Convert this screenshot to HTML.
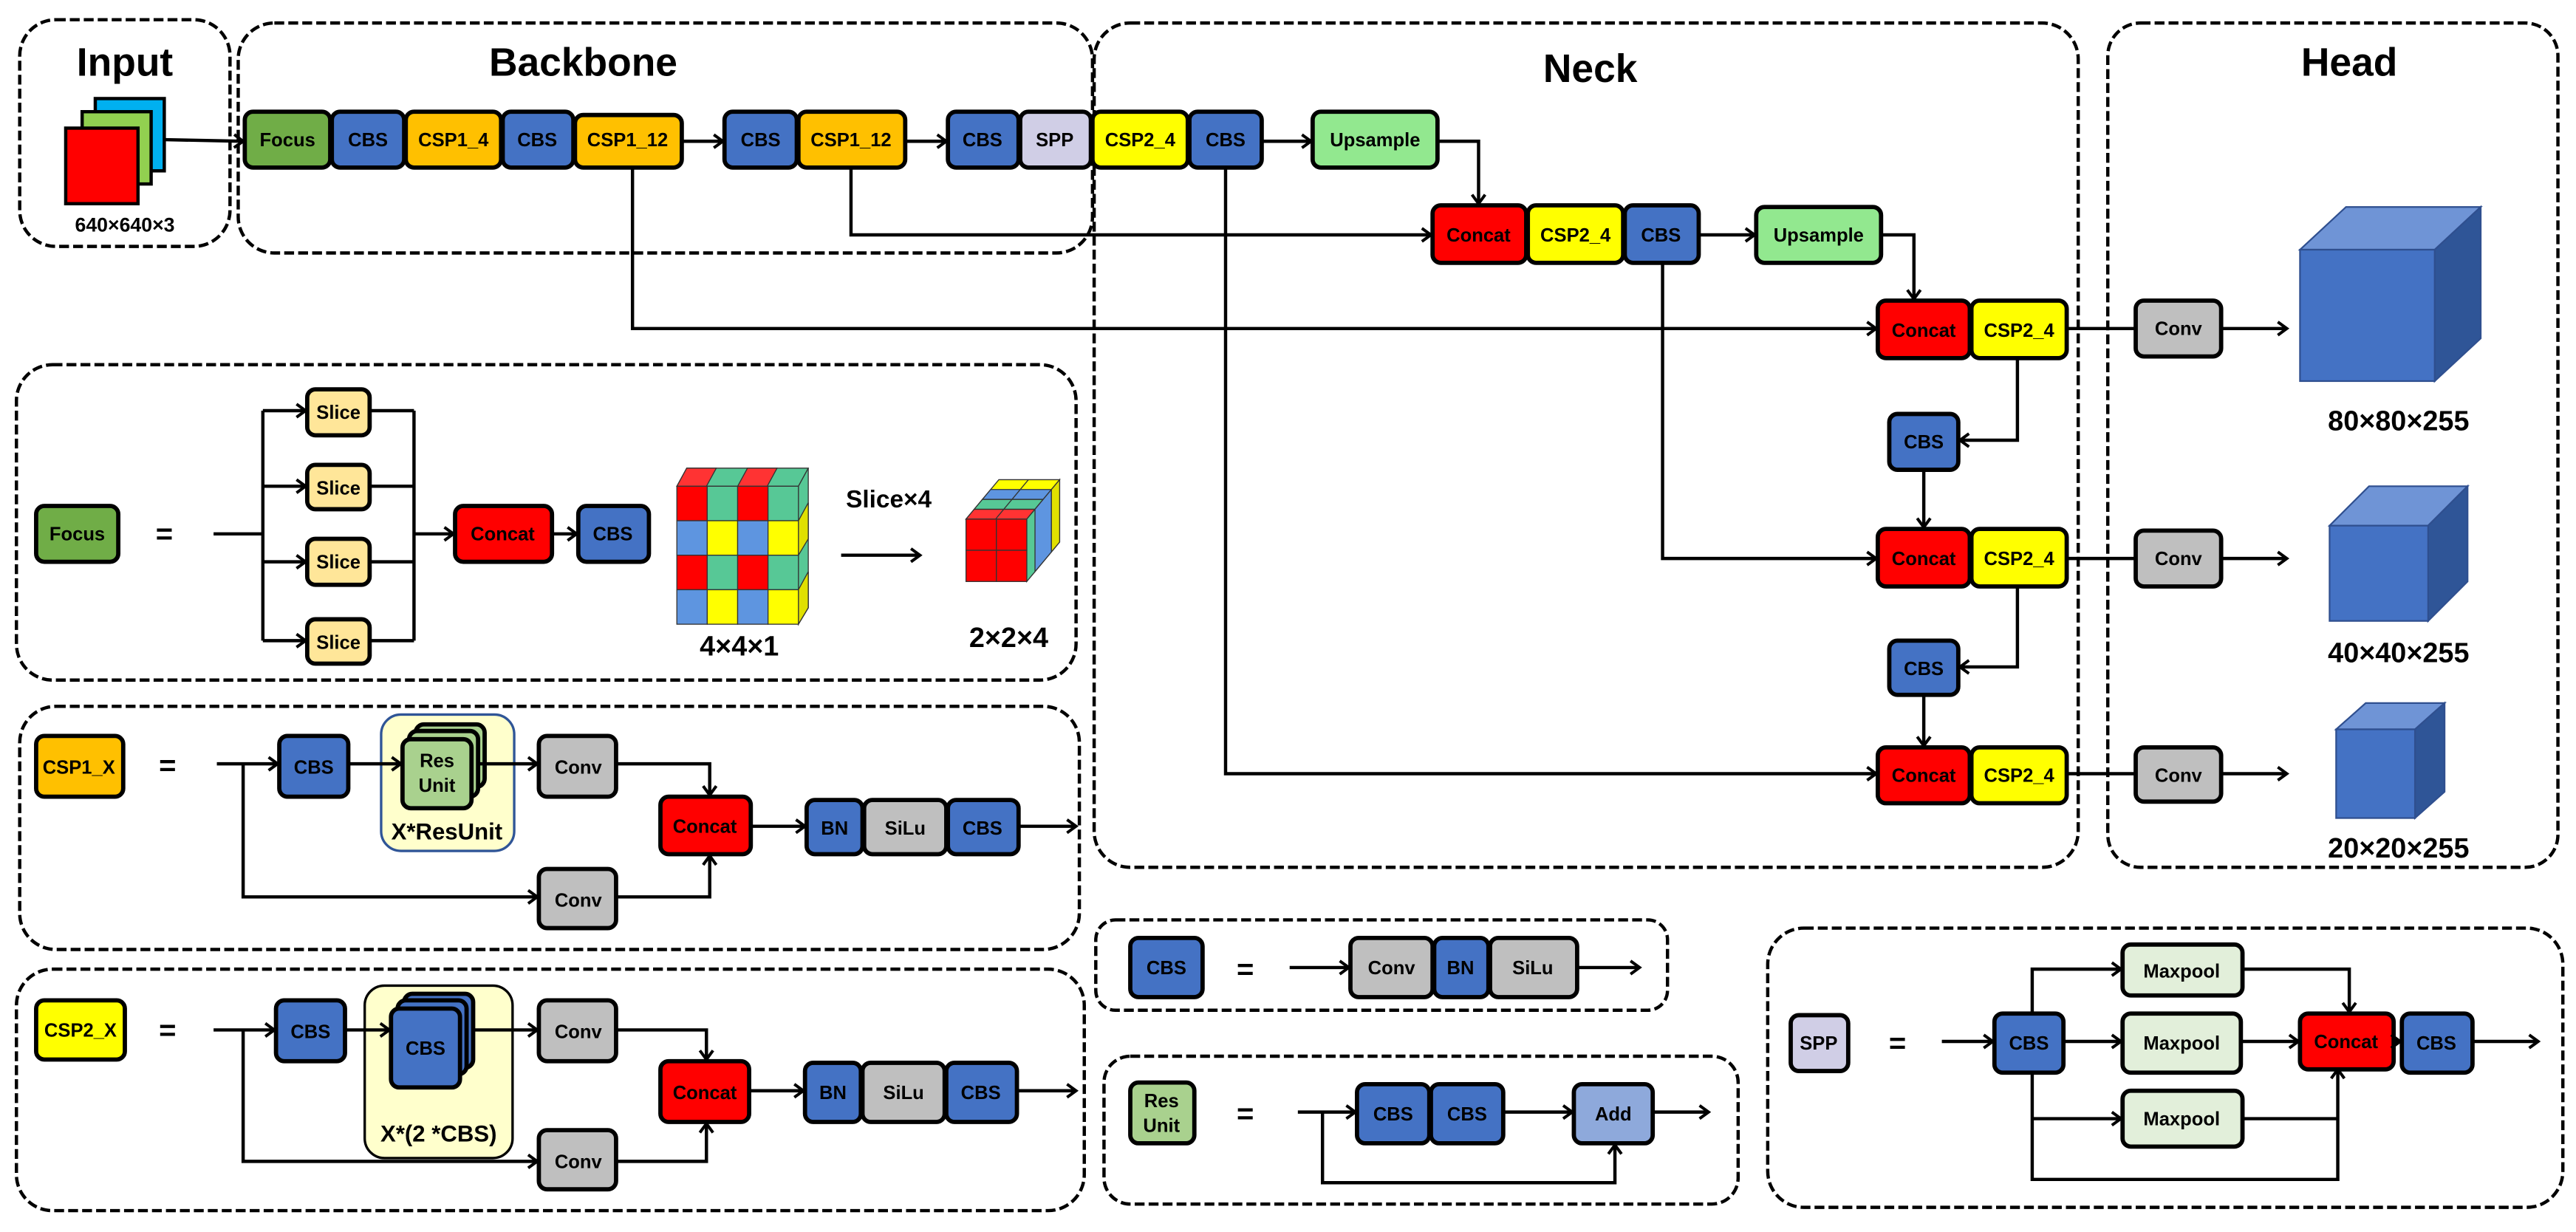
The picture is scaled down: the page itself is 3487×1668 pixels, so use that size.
<!DOCTYPE html>
<html><head><meta charset="utf-8">
<style>
html,body{margin:0;padding:0;background:#fff;}
svg{display:block;}
text{font-family:"Liberation Sans",Arial,sans-serif;font-weight:bold;text-anchor:middle;fill:#000;}
.b{stroke:#000;stroke-width:2.6;}
.t{font-size:11.5px;}
.d{fill:none;stroke:#000;stroke-width:2;stroke-dasharray:6 2.5;}
.l{fill:none;stroke:#000;stroke-width:2;}
.T{font-size:24px;}
.L{font-size:17px;}
</style></head><body>
<svg width="3487" height="1668" viewBox="0 0 1568 750" preserveAspectRatio="none" xmlns="http://www.w3.org/2000/svg">
<defs>
<marker id="a" markerWidth="10" markerHeight="10" refX="8" refY="5" orient="auto" markerUnits="userSpaceOnUse"><path d="M2.5,1 L8,5 L2.5,9" fill="none" stroke="#000" stroke-width="1.8"/></marker>
</defs>

<!-- dashed containers -->
<rect class="d" x="12" y="12" width="128" height="138" rx="22"/>
<rect class="d" x="145" y="14" width="520" height="140" rx="22"/>
<rect class="d" x="666" y="14" width="599" height="514" rx="22"/>
<rect class="d" x="1283" y="14" width="274" height="514" rx="20"/>
<rect class="d" x="10" y="222" width="645" height="192" rx="22"/>
<rect class="d" x="12" y="430" width="645" height="148" rx="22"/>
<rect class="d" x="10" y="590" width="650" height="147" rx="22"/>
<rect class="d" x="667" y="560" width="348" height="55" rx="12"/>
<rect class="d" x="672" y="643" width="386" height="90" rx="16"/>
<rect class="d" x="1076" y="565" width="484" height="170" rx="22"/>

<!-- titles -->
<text class="T" x="76" y="46">Input</text>
<text class="T" x="355" y="46">Backbone</text>
<text class="T" x="968" y="50">Neck</text>
<text class="T" x="1430" y="46">Head</text>

<!-- input image stack -->
<rect x="58" y="60" width="42" height="44" fill="#00B0F0" stroke="#000" stroke-width="2"/>
<rect x="50" y="68" width="42" height="44" fill="#92D050" stroke="#000" stroke-width="2"/>
<rect x="40" y="78" width="44" height="46" fill="#FF0000" stroke="#000" stroke-width="2"/>
<text x="76" y="141" style="font-size:12px">640×640×3</text>
<line class="l" x1="100" y1="85" x2="148" y2="86" marker-end="url(#a)"/>

<!-- backbone row -->
<rect class="b" x="149" y="68" width="52" height="34" rx="5" fill="#70AD47"/><text class="t" x="175" y="89">Focus</text>
<rect class="b" x="202" y="68" width="44" height="34" rx="5" fill="#4472C4"/><text class="t" x="224" y="89">CBS</text>
<rect class="b" x="247" y="68" width="58" height="34" rx="5" fill="#FFC000"/><text class="t" x="276" y="89">CSP1_4</text>
<rect class="b" x="306" y="68" width="43" height="34" rx="5" fill="#4472C4"/><text class="t" x="327" y="89">CBS</text>
<rect class="b" x="350" y="70" width="65" height="32" rx="5" fill="#FFC000"/><text class="t" x="382" y="89">CSP1_12</text>
<line class="l" x1="415" y1="86" x2="440" y2="86" marker-end="url(#a)"/>
<rect class="b" x="441" y="68" width="44" height="34" rx="5" fill="#4472C4"/><text class="t" x="463" y="89">CBS</text>
<rect class="b" x="486" y="68" width="65" height="34" rx="5" fill="#FFC000"/><text class="t" x="518" y="89">CSP1_12</text>
<line class="l" x1="551" y1="86" x2="576" y2="86" marker-end="url(#a)"/>
<rect class="b" x="577" y="68" width="43" height="34" rx="5" fill="#4472C4"/><text class="t" x="598" y="89">CBS</text>
<rect class="b" x="621" y="68" width="43" height="34" rx="5" fill="#D0CEE6"/><text class="t" x="642" y="89">SPP</text>
<rect class="b" x="665" y="68" width="58" height="34" rx="5" fill="#FFFF00"/><text class="t" x="694" y="89">CSP2_4</text>
<rect class="b" x="724" y="68" width="44" height="34" rx="5" fill="#4472C4"/><text class="t" x="746" y="89">CBS</text>
<line class="l" x1="768" y1="86" x2="798" y2="86" marker-end="url(#a)"/>
<rect class="b" x="799" y="68" width="76" height="34" rx="5" fill="#92E88F"/><text class="t" x="837" y="89">Upsample</text>
<polyline class="l" points="875,86 900,86 900,124" marker-end="url(#a)"/>

<!-- row 2 -->
<polyline class="l" points="518,102 518,143 871,143" marker-end="url(#a)"/>
<rect class="b" x="872" y="125" width="57" height="35" rx="5" fill="#FF0000"/><text class="t" x="900" y="147">Concat</text>
<rect class="b" x="930" y="125" width="58" height="35" rx="5" fill="#FFFF00"/><text class="t" x="959" y="147">CSP2_4</text>
<rect class="b" x="989" y="125" width="45" height="35" rx="5" fill="#4472C4"/><text class="t" x="1011" y="147">CBS</text>
<line class="l" x1="1034" y1="143" x2="1068" y2="143" marker-end="url(#a)"/>
<rect class="b" x="1069" y="126" width="76" height="34" rx="5" fill="#92E88F"/><text class="t" x="1107" y="147">Upsample</text>
<polyline class="l" points="1145,143 1165,143 1165,182" marker-end="url(#a)"/>

<!-- row 3 -->
<polyline class="l" points="385,102 385,200 1142,200" marker-end="url(#a)"/>
<rect class="b" x="1143" y="183" width="56" height="35" rx="5" fill="#FF0000"/><text class="t" x="1171" y="205">Concat</text>
<rect class="b" x="1200" y="183" width="58" height="35" rx="5" fill="#FFFF00"/><text class="t" x="1229" y="205">CSP2_4</text>
<line class="l" x1="1258" y1="200" x2="1299" y2="200"/>
<rect class="b" x="1300" y="183" width="52" height="34" rx="5" fill="#BFBFBF"/><text class="t" x="1326" y="204">Conv</text>
<line class="l" x1="1352" y1="200" x2="1392" y2="200" marker-end="url(#a)"/>
<polyline class="l" points="1228,218 1228,268 1193,268" marker-end="url(#a)"/>
<rect class="b" x="1150" y="252" width="42" height="34" rx="5" fill="#4472C4"/><text class="t" x="1171" y="273">CBS</text>
<line class="l" x1="1171" y1="286" x2="1171" y2="321" marker-end="url(#a)"/>

<!-- row 4 -->
<polyline class="l" points="1012,160 1012,340 1142,340" marker-end="url(#a)"/>
<rect class="b" x="1143" y="322" width="56" height="35" rx="5" fill="#FF0000"/><text class="t" x="1171" y="344">Concat</text>
<rect class="b" x="1200" y="322" width="58" height="35" rx="5" fill="#FFFF00"/><text class="t" x="1229" y="344">CSP2_4</text>
<line class="l" x1="1258" y1="340" x2="1299" y2="340"/>
<rect class="b" x="1300" y="323" width="52" height="34" rx="5" fill="#BFBFBF"/><text class="t" x="1326" y="344">Conv</text>
<line class="l" x1="1352" y1="340" x2="1392" y2="340" marker-end="url(#a)"/>
<polyline class="l" points="1228,357 1228,406 1193,406" marker-end="url(#a)"/>
<rect class="b" x="1150" y="390" width="42" height="33" rx="5" fill="#4472C4"/><text class="t" x="1171" y="411">CBS</text>
<line class="l" x1="1171" y1="423" x2="1171" y2="454" marker-end="url(#a)"/>

<!-- row 5 -->
<polyline class="l" points="746,102 746,471 1142,471" marker-end="url(#a)"/>
<rect class="b" x="1143" y="455" width="56" height="34" rx="5" fill="#FF0000"/><text class="t" x="1171" y="476">Concat</text>
<rect class="b" x="1200" y="455" width="58" height="34" rx="5" fill="#FFFF00"/><text class="t" x="1229" y="476">CSP2_4</text>
<line class="l" x1="1258" y1="471" x2="1299" y2="471"/>
<rect class="b" x="1300" y="455" width="52" height="33" rx="5" fill="#BFBFBF"/><text class="t" x="1326" y="476">Conv</text>
<line class="l" x1="1352" y1="471" x2="1392" y2="471" marker-end="url(#a)"/>

<!-- head cubes -->
<g stroke="#2F4F8F" stroke-width="1">
<polygon points="1400,152 1428,126 1510,126 1482,152" fill="#6F94D6"/>
<polygon points="1482,152 1510,126 1510,206 1482,232" fill="#2F5597"/>
<rect x="1400" y="152" width="82" height="80" fill="#4472C4"/>
<polygon points="1418,320 1442,296 1502,296 1478,320" fill="#6F94D6"/>
<polygon points="1478,320 1502,296 1502,354 1478,378" fill="#2F5597"/>
<rect x="1418" y="320" width="60" height="58" fill="#4472C4"/>
<polygon points="1422,444 1440,428 1488,428 1470,444" fill="#6F94D6"/>
<polygon points="1470,444 1488,428 1488,482 1470,498" fill="#2F5597"/>
<rect x="1422" y="444" width="48" height="54" fill="#4472C4"/>
</g>
<text class="L" x="1460" y="262">80×80×255</text>
<text class="L" x="1460" y="403">40×40×255</text>
<text class="L" x="1460" y="522">20×20×255</text>

<!-- Focus definition -->
<rect class="b" x="22" y="308" width="50" height="34" rx="5" fill="#70AD47"/><text class="t" x="47" y="329">Focus</text>
<text x="100" y="331" style="font-size:18px">=</text>
<line class="l" x1="130" y1="325" x2="160" y2="325"/>
<line class="l" x1="160" y1="250" x2="160" y2="390"/>
<line class="l" x1="225" y1="250" x2="252" y2="250"/>
<line class="l" x1="225" y1="296" x2="252" y2="296"/>
<line class="l" x1="225" y1="342" x2="252" y2="342"/>
<line class="l" x1="225" y1="390" x2="252" y2="390"/>
<line class="l" x1="252" y1="250" x2="252" y2="390"/>
<line class="l" x1="160" y1="250" x2="186" y2="250" marker-end="url(#a)"/>
<line class="l" x1="160" y1="296" x2="186" y2="296" marker-end="url(#a)"/>
<line class="l" x1="160" y1="342" x2="186" y2="342" marker-end="url(#a)"/>
<line class="l" x1="160" y1="390" x2="186" y2="390" marker-end="url(#a)"/>
<rect class="b" x="187" y="237" width="38" height="28" rx="5" fill="#FFE699"/><text class="t" x="206" y="255">Slice</text>
<rect class="b" x="187" y="283" width="38" height="27" rx="5" fill="#FFE699"/><text class="t" x="206" y="301">Slice</text>
<rect class="b" x="187" y="328" width="38" height="28" rx="5" fill="#FFE699"/><text class="t" x="206" y="346">Slice</text>
<rect class="b" x="187" y="377" width="38" height="27" rx="5" fill="#FFE699"/><text class="t" x="206" y="395">Slice</text>
<line class="l" x1="252" y1="325" x2="276" y2="325" marker-end="url(#a)"/>
<rect class="b" x="277" y="308" width="59" height="34" rx="5" fill="#FF0000"/><text class="t" x="306" y="329">Concat</text>
<line class="l" x1="336" y1="325" x2="351" y2="325" marker-end="url(#a)"/>
<rect class="b" x="352" y="308" width="43" height="34" rx="5" fill="#4472C4"/><text class="t" x="373" y="329">CBS</text>

<!-- 4x4x1 cube -->
<g stroke="#333" stroke-width="0.6">
<polygon points="412,296 418,285 492,285 486,296" fill="#57C896"/>
<polygon points="412,296 418,285 436,285 430,296" fill="#FF3333"/>
<polygon points="449,296 455,285 473,285 467,296" fill="#FF3333"/>
<polygon points="486,296 492,285 492,370 486,380" fill="#57C896"/>
<polygon points="486,317 492,306 492,328 486,338" fill="#E0E000"/>
<polygon points="486,359 492,348 492,370 486,380" fill="#E0E000"/>
<rect x="412" y="296" width="18.5" height="21" fill="#FF0000"/><rect x="430.5" y="296" width="18.5" height="21" fill="#57C896"/><rect x="449" y="296" width="18.5" height="21" fill="#FF0000"/><rect x="467.5" y="296" width="18.5" height="21" fill="#57C896"/>
<rect x="412" y="317" width="18.5" height="21" fill="#5E95E0"/><rect x="430.5" y="317" width="18.5" height="21" fill="#FFFF00"/><rect x="449" y="317" width="18.5" height="21" fill="#5E95E0"/><rect x="467.5" y="317" width="18.5" height="21" fill="#FFFF00"/>
<rect x="412" y="338" width="18.5" height="21" fill="#FF0000"/><rect x="430.5" y="338" width="18.5" height="21" fill="#57C896"/><rect x="449" y="338" width="18.5" height="21" fill="#FF0000"/><rect x="467.5" y="338" width="18.5" height="21" fill="#57C896"/>
<rect x="412" y="359" width="18.5" height="21" fill="#5E95E0"/><rect x="430.5" y="359" width="18.5" height="21" fill="#FFFF00"/><rect x="449" y="359" width="18.5" height="21" fill="#5E95E0"/><rect x="467.5" y="359" width="18.5" height="21" fill="#FFFF00"/>
</g>
<text class="L" x="450" y="399">4×4×1</text>
<text x="541" y="309" style="font-size:15px">Slice×4</text>
<line class="l" x1="512" y1="338" x2="560" y2="338" marker-end="url(#a)"/>
<!-- 2x2x4 cube -->
<g stroke="#333" stroke-width="0.6">
<polygon points="588,316 625,316 645,292 608,292" fill="#FFFF00"/>
<polygon points="588,316 625,316 630,310 593,310" fill="#FF3333"/>
<polygon points="593,310 630,310 635,304 598,304" fill="#57C896"/>
<polygon points="598,304 635,304 640,298 603,298" fill="#5E95E0"/>
<line x1="606" y1="316" x2="626" y2="292"/>
<polygon points="625,316 645,292 645,330 625,354" fill="#57C896"/>
<polygon points="630,310 640,298 640,336 630,348" fill="#5E95E0"/>
<polygon points="640,298 645,292 645,330 640,336" fill="#E0E000"/>
<rect x="588" y="316" width="18.5" height="19" fill="#FF0000"/><rect x="606.5" y="316" width="18.5" height="19" fill="#FF0000"/>
<rect x="588" y="335" width="18.5" height="19" fill="#FF0000"/><rect x="606.5" y="335" width="18.5" height="19" fill="#FF0000"/>
</g>
<text class="L" x="614" y="394">2×2×4</text>

<!-- CSP1_X -->
<rect class="b" x="22" y="448" width="53" height="37" rx="5" fill="#FFC000"/><text class="t" x="48" y="471">CSP1_X</text>
<text x="102" y="472" style="font-size:18px">=</text>
<line class="l" x1="132" y1="465" x2="169" y2="465" marker-end="url(#a)"/>
<polyline class="l" points="148,465 148,546 327,546" marker-end="url(#a)"/>
<rect class="b" x="170" y="448" width="42" height="37" rx="5" fill="#4472C4"/><text class="t" x="191" y="471">CBS</text>
<rect x="232" y="435" width="81" height="83" rx="12" fill="#FFFFCC" stroke="#2F5597" stroke-width="1.5"/>
<line class="l" x1="212" y1="465" x2="244" y2="465" marker-end="url(#a)"/>
<rect class="b" x="253" y="441" width="42" height="38" rx="5" fill="#A9D18E"/>
<rect class="b" x="249" y="445" width="42" height="40" rx="5" fill="#A9D18E"/>
<rect class="b" x="245" y="450" width="42" height="42" rx="5" fill="#A9D18E"/>
<text class="t" x="266" y="467">Res</text><text class="t" x="266" y="482">Unit</text>
<text x="272" y="511" style="font-size:14px">X*ResUnit</text>
<line class="l" x1="292" y1="465" x2="327" y2="465" marker-end="url(#a)"/>
<rect class="b" x="328" y="448" width="47" height="37" rx="5" fill="#BFBFBF"/><text class="t" x="352" y="471">Conv</text>
<polyline class="l" points="375,465 432,465 432,484" marker-end="url(#a)"/>
<rect class="b" x="328" y="529" width="47" height="36" rx="5" fill="#BFBFBF"/><text class="t" x="352" y="552">Conv</text>
<polyline class="l" points="375,546 432,546 432,521" marker-end="url(#a)"/>
<rect class="b" x="402" y="485" width="55" height="35" rx="5" fill="#FF0000"/><text class="t" x="429" y="507">Concat</text>
<line class="l" x1="457" y1="503" x2="490" y2="503" marker-end="url(#a)"/>
<rect class="b" x="491" y="487" width="34" height="33" rx="5" fill="#4472C4"/><text class="t" x="508" y="508">BN</text>
<rect class="b" x="526" y="487" width="50" height="33" rx="5" fill="#BFBFBF"/><text class="t" x="551" y="508">SiLu</text>
<rect class="b" x="577" y="487" width="43" height="33" rx="5" fill="#4472C4"/><text class="t" x="598" y="508">CBS</text>
<line class="l" x1="620" y1="503" x2="655" y2="503" marker-end="url(#a)"/>

<!-- CSP2_X -->
<rect class="b" x="22" y="609" width="54" height="36" rx="5" fill="#FFFF00"/><text class="t" x="49" y="631">CSP2_X</text>
<text x="102" y="633" style="font-size:18px">=</text>
<line class="l" x1="130" y1="627" x2="167" y2="627" marker-end="url(#a)"/>
<polyline class="l" points="148,627 148,707 327,707" marker-end="url(#a)"/>
<rect class="b" x="168" y="609" width="42" height="37" rx="5" fill="#4472C4"/><text class="t" x="189" y="632">CBS</text>
<rect x="222" y="600" width="90" height="105" rx="12" fill="#FFFFCC" stroke="#000" stroke-width="1.5"/>
<line class="l" x1="210" y1="627" x2="237" y2="627" marker-end="url(#a)"/>
<rect class="b" x="246" y="605" width="42" height="45" rx="5" fill="#4472C4"/>
<rect class="b" x="242" y="609" width="42" height="45" rx="5" fill="#4472C4"/>
<rect class="b" x="238" y="614" width="42" height="48" rx="5" fill="#4472C4"/>
<text class="t" x="259" y="642">CBS</text>
<text x="267" y="695" style="font-size:14px">X*(2 *CBS)</text>
<line class="l" x1="288" y1="627" x2="327" y2="627" marker-end="url(#a)"/>
<rect class="b" x="328" y="609" width="47" height="37" rx="5" fill="#BFBFBF"/><text class="t" x="352" y="632">Conv</text>
<polyline class="l" points="375,627 430,627 430,645" marker-end="url(#a)"/>
<rect class="b" x="328" y="688" width="47" height="36" rx="5" fill="#BFBFBF"/><text class="t" x="352" y="711">Conv</text>
<polyline class="l" points="375,707 430,707 430,684" marker-end="url(#a)"/>
<rect class="b" x="402" y="646" width="54" height="37" rx="5" fill="#FF0000"/><text class="t" x="429" y="669">Concat</text>
<line class="l" x1="456" y1="664" x2="489" y2="664" marker-end="url(#a)"/>
<rect class="b" x="490" y="647" width="34" height="36" rx="5" fill="#4472C4"/><text class="t" x="507" y="669">BN</text>
<rect class="b" x="525" y="647" width="50" height="36" rx="5" fill="#BFBFBF"/><text class="t" x="550" y="669">SiLu</text>
<rect class="b" x="576" y="647" width="43" height="36" rx="5" fill="#4472C4"/><text class="t" x="597" y="669">CBS</text>
<line class="l" x1="619" y1="664" x2="655" y2="664" marker-end="url(#a)"/>

<!-- CBS def -->
<rect class="b" x="688" y="571" width="44" height="36" rx="5" fill="#4472C4"/><text class="t" x="710" y="593">CBS</text>
<text x="758" y="596" style="font-size:18px">=</text>
<line class="l" x1="785" y1="589" x2="821" y2="589" marker-end="url(#a)"/>
<rect class="b" x="822" y="571" width="50" height="36" rx="5" fill="#BFBFBF"/><text class="t" x="847" y="593">Conv</text>
<rect class="b" x="873" y="571" width="33" height="36" rx="5" fill="#4472C4"/><text class="t" x="889" y="593">BN</text>
<rect class="b" x="907" y="571" width="53" height="36" rx="5" fill="#BFBFBF"/><text class="t" x="933" y="593">SiLu</text>
<line class="l" x1="960" y1="589" x2="998" y2="589" marker-end="url(#a)"/>

<!-- ResUnit def -->
<rect class="b" x="688" y="659" width="39" height="37" rx="5" fill="#A9D18E"/><text class="t" x="707" y="674">Res</text><text class="t" x="707" y="689">Unit</text>
<text x="758" y="684" style="font-size:18px">=</text>
<line class="l" x1="790" y1="677" x2="825" y2="677" marker-end="url(#a)"/>
<polyline class="l" points="805,677 805,720 983,720 983,697" marker-end="url(#a)"/>
<rect class="b" x="826" y="660" width="44" height="36" rx="5" fill="#4472C4"/><text class="t" x="848" y="682">CBS</text>
<rect class="b" x="871" y="660" width="44" height="36" rx="5" fill="#4472C4"/><text class="t" x="893" y="682">CBS</text>
<line class="l" x1="915" y1="677" x2="957" y2="677" marker-end="url(#a)"/>
<rect class="b" x="958" y="660" width="48" height="36" rx="5" fill="#8EA9DB"/><text class="t" x="982" y="682">Add</text>
<line class="l" x1="1006" y1="677" x2="1040" y2="677" marker-end="url(#a)"/>

<!-- SPP def -->
<rect class="b" x="1090" y="618" width="35" height="34" rx="5" fill="#D0CEE6"/><text class="t" x="1107" y="639">SPP</text>
<text x="1155" y="641" style="font-size:18px">=</text>
<line class="l" x1="1182" y1="634" x2="1213" y2="634" marker-end="url(#a)"/>
<polyline class="l" points="1237,617 1237,590 1291,590" marker-end="url(#a)"/>
<polyline class="l" points="1237,653 1237,718 1423,718 1423,651" marker-end="url(#a)"/>
<line class="l" x1="1237" y1="681" x2="1291" y2="681" marker-end="url(#a)"/>
<rect class="b" x="1214" y="617" width="42" height="36" rx="5" fill="#4472C4"/><text class="t" x="1235" y="639">CBS</text>
<rect class="b" x="1292" y="575" width="73" height="31" rx="5" fill="#E2EFDA"/><text class="t" x="1328" y="595">Maxpool</text>
<line class="l" x1="1256" y1="634" x2="1291" y2="634" marker-end="url(#a)"/>
<rect class="b" x="1292" y="617" width="72" height="36" rx="5" fill="#E2EFDA"/><text class="t" x="1328" y="639">Maxpool</text>
<rect class="b" x="1292" y="664" width="73" height="34" rx="5" fill="#E2EFDA"/><text class="t" x="1328" y="685">Maxpool</text>
<polyline class="l" points="1365,590 1430,590 1430,616" marker-end="url(#a)"/>
<line class="l" x1="1364" y1="634" x2="1399" y2="634" marker-end="url(#a)"/>
<line class="l" x1="1365" y1="681" x2="1423" y2="681"/>
<rect class="b" x="1400" y="617" width="57" height="34" rx="5" fill="#FF0000"/><text class="t" x="1428" y="638">Concat</text>
<line class="l" x1="1457" y1="634" x2="1461" y2="634" marker-end="url(#a)"/>
<rect class="b" x="1462" y="617" width="43" height="36" rx="5" fill="#4472C4"/><text class="t" x="1483" y="639">CBS</text>
<line class="l" x1="1505" y1="634" x2="1545" y2="634" marker-end="url(#a)"/>
</svg>
</body></html>
